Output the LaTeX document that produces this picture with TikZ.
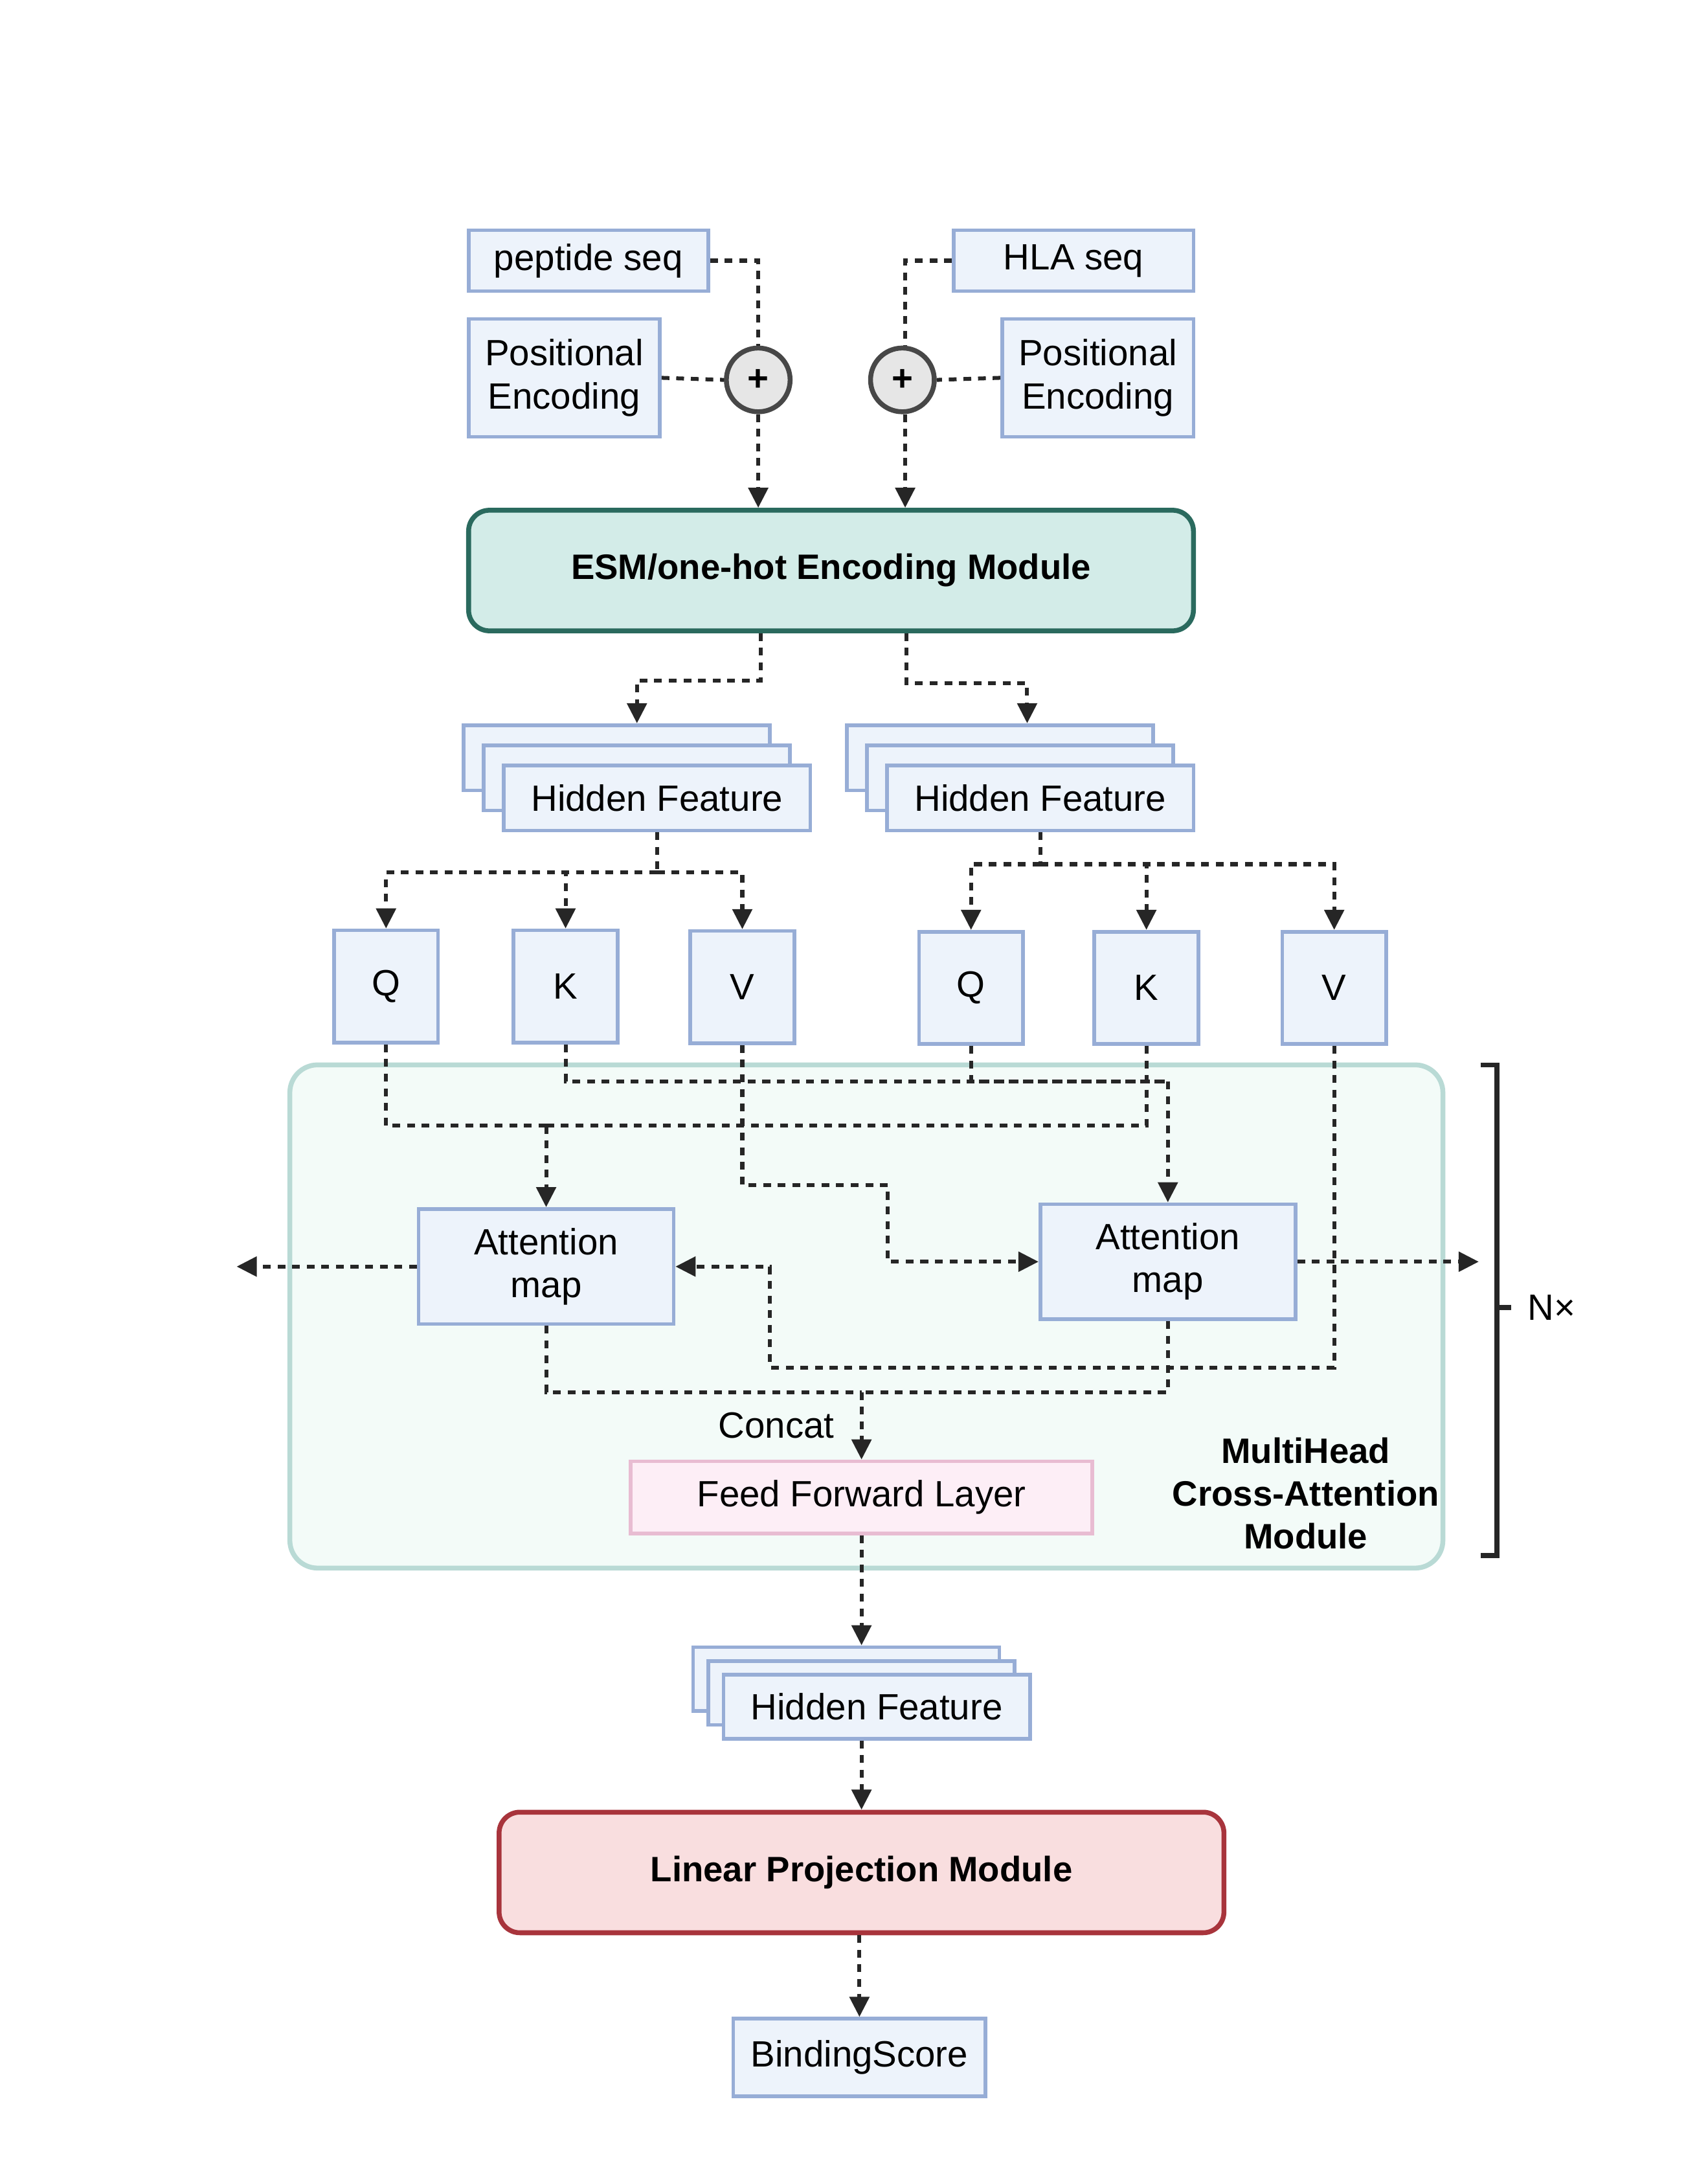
\documentclass[tikz,border=0pt]{standalone}
\usepackage{fontspec}
\setmainfont{Liberation Sans}
\usetikzlibrary{arrows.meta,positioning}
\definecolor{boxfill}{HTML}{EDF3FB}
\definecolor{boxline}{HTML}{97ADD6}
\definecolor{esmfill}{HTML}{D3ECE8}
\definecolor{esmline}{HTML}{2A6A5E}
\definecolor{modfill}{HTML}{F3FBF8}
\definecolor{modline}{HTML}{B9DAD5}
\definecolor{fflfill}{HTML}{FDEEF6}
\definecolor{fflline}{HTML}{E8BCD2}
\definecolor{linfill}{HTML}{F9DEDF}
\definecolor{linline}{HTML}{A8343C}
\definecolor{plusfill}{HTML}{E6E6E6}
\definecolor{plusline}{HTML}{474747}
\definecolor{flowcol}{HTML}{262626}
\newcommand{\boxfont}{\fontsize{15}{17.6}\selectfont}

\begin{document}
\begin{tikzpicture}[x=0.02cm, y=-0.02cm,
  box/.style={draw=boxline, fill=boxfill, line width=1.5pt, inner sep=0pt, align=center, font=\boxfont},
  hf/.style={box, minimum width=4.42cm, minimum height=0.94cm},
  qkv/.style={box, minimum width=1.5cm, minimum height=1.62cm},
  attn/.style={box, minimum width=3.68cm, minimum height=1.66cm},
  plus/.style={circle, draw=plusline, fill=plusfill, line width=2pt, minimum size=0.92cm, inner sep=0pt, font=\bfseries\boxfont},
  block/.style={rounded corners=0.3cm, line width=2pt, inner sep=0pt, minimum width=10.46cm, minimum height=1.74cm, font=\bfseries\fontsize{14.5}{17.6}\selectfont},
  flow/.style={draw=flowcol, line width=1.6pt, dash pattern=on 3.2pt off 2.8pt},
  arr/.style={flow, -{Triangle[length=0.29cm, width=0.28cm]}}]
  \useasboundingbox (0,0) rectangle (1232,1568);

  % inputs
  \node[box, minimum width=3.46cm, minimum height=0.88cm] (pep) at (424.5,188) {peptide seq};
  \node[box, minimum width=3.46cm, minimum height=0.88cm] (hla) at (774.5,188) {HLA seq};
  \node[box, minimum width=2.76cm, minimum height=1.7cm] (peA) at (407,272.5) {Positional\\Encoding};
  \node[box, minimum width=2.76cm, minimum height=1.7cm] (peB) at (792,272.5) {Positional\\Encoding};
  \node[plus] (plusA) at (547,274) {+};
  \node[plus] (plusB) at (651,274) {+};

  % encoding
  \node[block, draw=esmline, fill=esmfill] (esm) at (599.5,411.5) {ESM/one-hot Encoding Module};

  % hidden features
  \node[hf] (hfA1) at (445,546.5) {};
  \node[hf] (hfA2) at ([shift={(14.5,14.5)}]hfA1.center) {};
  \node[hf] (hfA) at ([shift={(14.5,14.5)}]hfA2.center) {Hidden Feature};
  \node[hf] (hfB1) at (721.5,546.5) {};
  \node[hf] (hfB2) at ([shift={(14.5,14.5)}]hfB1.center) {};
  \node[hf] (hfB) at ([shift={(14.5,14.5)}]hfB2.center) {Hidden Feature};

  % Q K V
  \node[qkv] (qA) at (278.5,711.5) {Q};
  \node[qkv] (kA) at (408,711.5) {K};
  \node[qkv] (vA) at (535.5,712) {V};
  \node[qkv] (qB) at (700.5,712.5) {Q};
  \node[qkv] (kB) at (827,712.5) {K};
  \node[qkv] (vB) at (962.5,712.5) {V};

  % cross-attention module
  \node[draw=modline, fill=modfill, line width=2pt, rounded corners=0.4cm, minimum width=16.64cm, minimum height=7.26cm] (mod) at (625,949.5) {};
  \node[attn] (attA) at (394,913.5) {Attention\\map};
  \node[attn] (attB) at (842.5,910) {Attention\\map};
  \node[box, draw=fflline, fill=fflfill, minimum width=6.66cm, minimum height=1.04cm] (ffl) at (621.5,1080) {Feed Forward Layer};
  \node[font=\boxfont] (cat) at (560,1028) {Concat};
  \node[align=center, font=\bfseries\fontsize{14.5}{17.6}\selectfont] (mh) at (942,1077) {MultiHead\\Cross-Attention\\Module};

  % repeat bracket
  \draw[flowcol, line width=2pt] (1068,768) -- (1080,768) -- (1080,1122) -- (1068,1122);
  \draw[flowcol, line width=2pt] (1080,943) coordinate (brk0) -- (1090,943) coordinate (brk);
  \node[font=\boxfont, right=0.12cm of brk] (nx) {N×};

  % output
  \node[hf, minimum height=0.92cm] (hfC1) at (610.5,1211) {};
  \node[hf, minimum height=0.92cm] (hfC2) at ([shift={(11,10)}]hfC1.center) {};
  \node[hf, minimum height=0.92cm] (hfC) at ([shift={(11,10)}]hfC2.center) {Hidden Feature};
  \node[block, draw=linline, fill=linfill] (lin) at (621.5,1350.5) {Linear Projection Module};
  \node[box, minimum width=3.64cm, minimum height=1.12cm] (score) at (620,1484) {BindingScore};

  % input connectors
  \draw[flow] (pep.east) -| (plusA.north);
  \draw[flow] (peA.east) -- (plusA.west);
  \draw[arr] (plusA.south) -- (plusA.south |- esm.north);
  \draw[flow] (hla.west) -| ([xshift=0.04cm]plusB.north);
  \draw[flow] (peB.west) -- (plusB.east);
  \draw[arr] ([xshift=0.04cm]plusB.south) -- ([xshift=0.04cm]plusB.south |- esm.north);
  \draw[arr] ([xshift=0.04cm]esm.south -| plusA) -- ++(0,34) -| (hfA2.north |- hfA1.north);
  \draw[arr] ([xshift=0.06cm]esm.south -| plusB) -- ++(0,36) -| ([xshift=0.1cm]hfB2.north |- hfB1.north);

  % split to Q K V
  \draw[flow] (hfA.south) -- ++(0,29) coordinate (sA);
  \draw[arr] (sA) -| (qA.north);
  \draw[arr] (sA) -| (kA.north);
  \draw[arr] (sA) -| (vA.north);
  \draw[flow] (hfB.south) -- ++(0,23) coordinate (sB);
  \draw[arr] (sB) -| (qB.north);
  \draw[arr] (sB) -| (kB.north);
  \draw[arr] (sB) -| (vB.north);

  % attention heads
  \coordinate (jA) at (attA.north |- 0,812);
  \draw[flow] (qA.south) |- (jA);
  \draw[flow] (kB.south) |- (jA);
  \draw[arr] (jA) -- (attA.north);
  \coordinate (jB) at (attB.north |- 0,780);
  \draw[flow] (kA.south) |- (jB);
  \draw[flow] (qB.south) |- (jB);
  \draw[arr] (jB) -- (attB.north);
  \draw[arr] (vA.south) |- ++(105,101) |- (attB.west);
  \draw[arr] (vB.south) |- ++(-407,232) |- (attA.east);
  \draw[arr] (attA.west) -- ++(-130,0);
  \draw[arr] (attB.east) -- ++(131,0);

  % concat and output
  \coordinate (jC) at (ffl.north |- 0,1004);
  \draw[flow] (attA.south) |- (jC);
  \draw[flow] (attB.south) |- (jC);
  \draw[arr] (jC) -- (ffl.north);
  \draw[arr] (ffl.south) -- (ffl.south |- hfC1.north);
  \draw[arr] (hfC.south -| lin.north) -- (lin.north);
  \draw[arr] (lin.south -| score.north) -- (score.north);
\end{tikzpicture}
\end{document}
